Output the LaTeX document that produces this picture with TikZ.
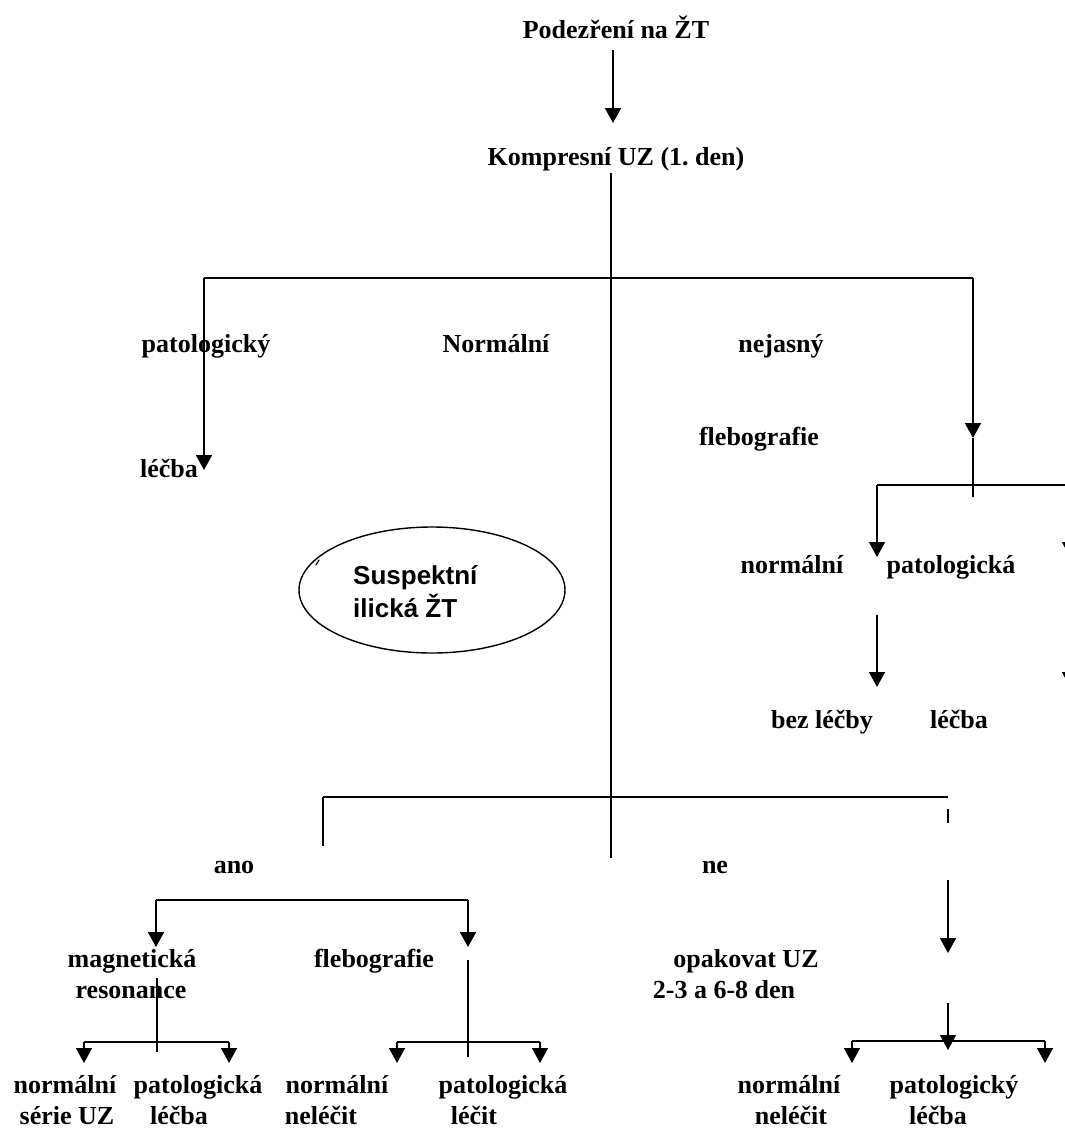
\documentclass[tikz,border=0pt]{standalone}
\usepackage{fontspec}
\setmainfont{Liberation Serif}
\setsansfont{Liberation Sans}
\usetikzlibrary{arrows.meta,shapes.geometric}
\frenchspacing
\tikzset{
  lbl/.style={font=\fontsize{26}{31}\selectfont\bfseries, inner sep=0pt, anchor=base},
  slbl/.style={font=\sffamily\fontsize{26}{31}\selectfont\bfseries, inner sep=0pt, anchor=base west},
  ln/.style={line width=1.6pt},
  arr/.style={ln, -{Triangle[width=16pt,length=15pt]}},
}
\begin{document}
\begin{tikzpicture}[x=1pt,y=-1pt]
\useasboundingbox (0,0) rectangle (1065,1128);
\clip (0,0) rectangle (1065,1128);
% ---- labels
\node[lbl] (top) at (616,38) {Podezření na ŽT};
\node[lbl] (komp) at (616,165) {Kompresní UZ (1. den)};
\node[lbl] (pat1) at (206,352) {patologický};
\node[lbl] (norm1) at (496,352) {Normální};
\node[lbl] (nej) at (781,352) {nejasný};
\node[lbl] (fleb1) at (759,445) {flebografie};
\node[lbl] (lec1) at (169,477) {léčba};
\node[lbl] (norm2) at (792,573) {normální};
\node[lbl] (pat2) at (951,573) {patologická};
\node[lbl] (bez) at (822,728) {bez léčby};
\node[lbl] (lec2) at (959,728) {léčba};
\node[draw, ellipse, line width=1.4pt, minimum width=266pt, minimum height=126pt, inner sep=0pt] (susp) at (432,590) {};
\node[slbl] (s1) at (353,584) {Suspektní};
\node[slbl] (s2) at (353,617) {ilická ŽT};
\node[lbl] (ano) at (234,873) {ano};
\node[lbl] (ne) at (715,873) {ne};
\node[lbl] (mag1) at (132,967) {magnetická};
\node[lbl] (mag2) at (131,998) {resonance};
\node[lbl] (fleb2) at (374,967) {flebografie};
\node[lbl] (opak1) at (746,967) {opakovat UZ};
\node[lbl] (opak2) at (724,998) {2-3 a 6-8 den};
\node[lbl] (n3) at (65,1093) {normální};
\node[lbl] (p3) at (198,1093) {patologická};
\node[lbl] (n4) at (337,1093) {normální};
\node[lbl] (p4) at (503,1093) {patologická};
\node[lbl] (n5) at (789,1093) {normální};
\node[lbl] (p5) at (954,1093) {patologický};
\node[lbl] (n3b) at (67,1124) {série UZ};
\node[lbl] (p3b) at (179,1124) {léčba};
\node[lbl] (n4b) at (321,1124) {neléčit};
\node[lbl] (p4b) at (474,1124) {léčit};
\node[lbl] (n5b) at (791,1124) {neléčit};
\node[lbl] (p5b) at (938,1124) {léčba};
% ---- coordinates
\coordinate (t1) at (613,50);   \coordinate (t2) at (613,123);
\coordinate (m1) at (611,173);  \coordinate (m2) at (611,858);
\coordinate (hL) at (204,278);  \coordinate (hR) at (973,278);
\coordinate (lT) at (204,470);
\coordinate (rT) at (973,438);  \coordinate (rE) at (973,497);
\coordinate (r2L) at (877,485); \coordinate (r2R) at (1070,485);
\coordinate (r2a) at (877,557); \coordinate (r2b) at (1070,557);
\coordinate (r3a) at (877,615); \coordinate (r3b) at (877,687);
\coordinate (r4a) at (1070,615); \coordinate (r4b) at (1070,687);
\coordinate (bL) at (323,797);  \coordinate (bR) at (948,797);
\coordinate (bLs) at (323,846);
\coordinate (d1) at (948,809);  \coordinate (d2) at (948,823);
\coordinate (d3) at (948,880);  \coordinate (d4) at (948,953);
\coordinate (aL) at (156,900);  \coordinate (aR) at (468,900);
\coordinate (aLt) at (156,947); \coordinate (aRt) at (468,947);
\coordinate (v1a) at (157,978); \coordinate (v1b) at (157,1052);
\coordinate (h1L) at (84,1042); \coordinate (h1R) at (229,1042);
\coordinate (h1Lt) at (84,1063); \coordinate (h1Rt) at (229,1063);
\coordinate (v2a) at (468,960); \coordinate (v2b) at (468,1057);
\coordinate (h2L) at (397,1042); \coordinate (h2R) at (540,1042);
\coordinate (h2Lt) at (397,1063); \coordinate (h2Rt) at (540,1063);
\coordinate (v3a) at (948,1003); \coordinate (v3b) at (948,1050);
\coordinate (h3L) at (852,1041); \coordinate (h3R) at (1045,1041);
\coordinate (h3Lt) at (852,1063); \coordinate (h3Rt) at (1045,1063);
\coordinate (tk1) at (316,565); \coordinate (tk2) at (319,560);
% ---- connectors
\draw[arr] (t1) -- (t2);
\draw[ln] (m1) -- (m2);
\draw[ln] (hL) -- (hR);
\draw[arr] (hL) -- (lT);
\draw[arr] (hR) -- (rT);
\draw[ln] (rT) -- (rE);
\draw[ln] (r2L) -- (r2R);
\draw[arr] (r2L) -- (r2a);
\draw[arr] (r2R) -- (r2b);
\draw[arr] (r3a) -- (r3b);
\draw[arr] (r4a) -- (r4b);
\draw[ln] (bL) -- (bR);
\draw[ln] (bL) -- (bLs);
\draw[ln] (d1) -- (d2);
\draw[arr] (d3) -- (d4);
\draw[ln] (aL) -- (aR);
\draw[arr] (aL) -- (aLt);
\draw[arr] (aR) -- (aRt);
\draw[ln] (v1a) -- (v1b);
\draw[ln] (h1L) -- (h1R);
\draw[arr] (h1L) -- (h1Lt);
\draw[arr] (h1R) -- (h1Rt);
\draw[ln] (v2a) -- (v2b);
\draw[ln] (h2L) -- (h2R);
\draw[arr] (h2L) -- (h2Lt);
\draw[arr] (h2R) -- (h2Rt);
\draw[arr] (v3a) -- (v3b);
\draw[ln] (h3L) -- (h3R);
\draw[arr] (h3L) -- (h3Lt);
\draw[arr] (h3R) -- (h3Rt);
\draw[line width=1.2pt, line cap=round] (tk1) -- (tk2);
\end{tikzpicture}
\end{document}
